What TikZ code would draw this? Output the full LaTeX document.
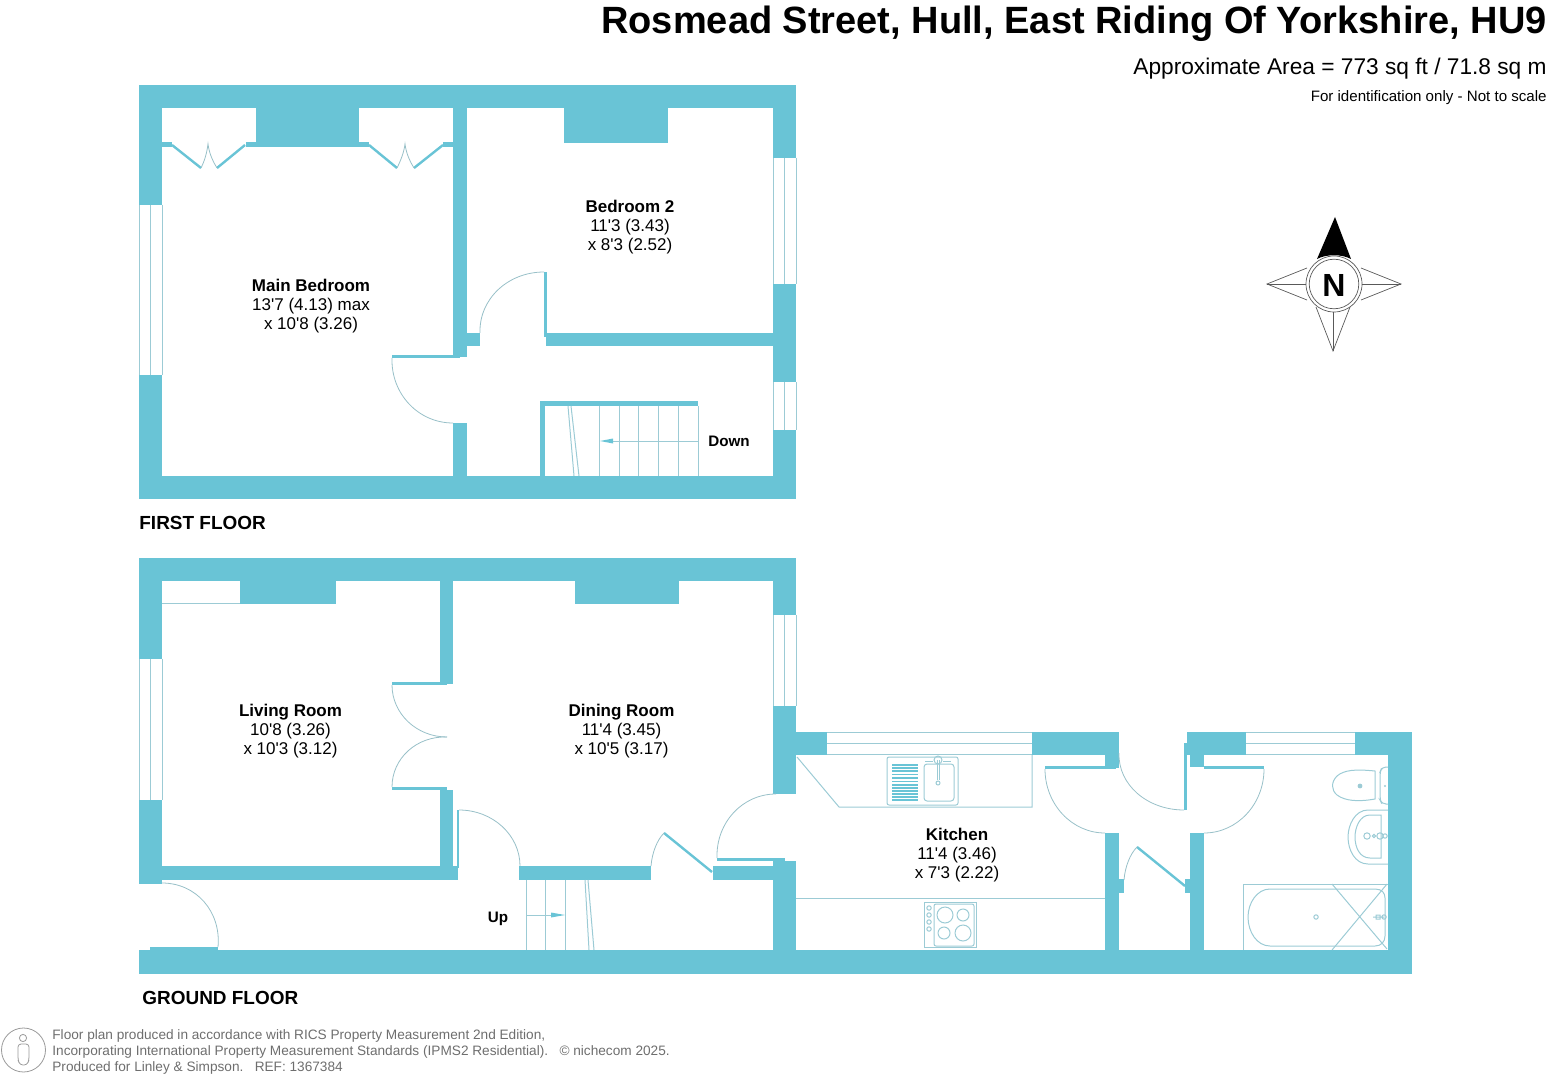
\documentclass[tikz,border=0pt]{standalone}
\usepackage{fontspec}
\setmainfont[Ligatures=TeXOff]{Liberation Sans}
\usetikzlibrary{calc}
\definecolor{wallc}{HTML}{69C4D6}
\definecolor{thinc}{HTML}{9CCBD5}
\definecolor{footc}{HTML}{6E6E6E}
\tikzset{
  wall/.style={fill=wallc,draw=none},
  thin line/.style={draw=thinc,line width=0.5pt},
  swing/.style={draw=thinc!85!gray,line width=0.4pt},
  leaf/.style={draw=wallc,line width=1.2pt},
  roomlabel/.style={align=center,inner sep=0pt,font=\fontsize{8.5}{9.5}\selectfont},
  smalllabel/.style={inner sep=0pt,font=\fontsize{7.6}{9.5}\selectfont\bfseries},
  floorlabel/.style={inner sep=0pt,anchor=west,font=\fontsize{9.48}{12}\selectfont\bfseries},
  foot/.style={inner sep=0pt,anchor=west,text=footc,font=\fontsize{6.82}{8}\selectfont},
  compass/.style={draw=black!65,line width=0.35pt}
}
\newcommand\wl[4]{\fill[wall] (#1,#2) rectangle (#3,#4);}
\newcommand\qarc[6]{\draw[swing] (#1,#2) .. controls ($(#1,#2)!.552!(#1+#5-#3,#2+#6-#4)$) and ($(#5,#6)!.552!(#1+#5-#3,#2+#6-#4)$) .. (#5,#6);}
\newcommand\winh[3]{\draw[thin line] (#1,#3) -- (#2,#3) (#1,#3+11) -- (#2,#3+11) (#1,#3+22) -- (#2,#3+22);}
\newcommand\winv[3]{\draw[thin line] (#3,#1) -- (#3,#2) (#3+11.5,#1) -- (#3+11.5,#2) (#3+23,#1) -- (#3+23,#2);}
\begin{document}
\begin{tikzpicture}[x=0.5pt,y=-0.5pt]
\useasboundingbox (0,0) rectangle (1551,1080);
% ===== FIRST FLOOR =====
\wl{139}{85}{796}{108}
\wl{139}{85}{162}{205}
\wl{139}{375}{162}{499}
\wl{139}{476}{796}{499}
\wl{773}{85}{796}{158}
\wl{773}{284}{796}{382}
\wl{773}{430}{796}{499}
\winv{205}{375}{139}
\winv{158}{284}{773}
\winv{382}{430}{773}
% chimneys
\wl{256}{108}{359}{147}
\wl{564}{108}{668}{143}
% wardrobe stubs and doors
\wl{162}{142}{172}{147}
\wl{246}{142}{256}{147}
\wl{359}{142}{369}{147}
\wl{443}{142}{453}{147}
\draw[leaf] (172,145) -- (201,168);
\draw[leaf] (245,145) -- (217,168);
\draw[leaf] (369,145) -- (397,168);
\draw[leaf] (443,145) -- (414,168);
\draw[swing] (201,168) .. controls (205,160) and (207,152) .. (208,144) .. controls (209,152) and (212,160) .. (217,168);
\draw[swing] (397,168) .. controls (401,160) and (404,152) .. (405,144) .. controls (406,152) and (409,160) .. (414,168);
% partitions
\wl{453}{108}{467}{357}
\wl{453}{423}{467}{476}
\wl{467}{333}{480}{346}
\wl{546}{333}{773}{346}
\wl{544}{272}{547}{337}
\wl{392}{355}{460}{358}
\qarc{544}{272}{546}{333}{480}{333}
\qarc{392}{358}{455}{358}{453}{423}
% stairs
\wl{540}{401}{698}{406}
\wl{540}{401}{545}{476}
\draw[thin line] (599,406) -- (599,476) (619,406) -- (619,476) (638.5,406) -- (638.5,476) (658,406) -- (658,476) (678,406) -- (678,476) (698,406) -- (698,476);
\draw[thin line] (568,406) -- (574,476) (571,406) -- (579,476);
\draw[thin line] (698,441) -- (606,441);
\fill[wallc] (600,441) -- (613,438.5) -- (613,443.5) -- cycle;
% ===== GROUND FLOOR =====
\wl{139}{558}{796}{581}
\wl{139}{558}{162}{659}
\wl{139}{800}{162}{884}
\wl{139}{950}{1412}{974}
\wl{773}{558}{796}{615}
\wl{773}{706}{796}{794}
\wl{773}{861}{796}{974}
\winv{659}{800}{139}
\winv{615}{706}{773}
\wl{240}{581}{336}{604}
\wl{575}{581}{679}{604}
\draw[thin line] (162,603) -- (240,603);
% partition living/dining
\wl{440}{581}{453}{684}
\wl{440}{790}{453}{866}
\wl{392}{682}{447}{685}
\wl{392}{787}{447}{790}
\qarc{392}{685}{447}{685}{447}{737}
\qarc{392}{787}{447}{789}{447}{737}
% hall wall
\wl{162}{866}{458}{880}
\wl{457}{810}{459}{868}
\qarc{459}{810}{459}{866}{520}{866}
\wl{519}{866}{651}{880}
\wl{713}{866}{773}{880}
\draw[leaf] (712,872) -- (664,833);
\draw[swing] (664,833) .. controls (657,840) and (652,853) .. (651,866);
\wl{717}{858}{785}{861}
\qarc{776}{794}{778}{858}{717}{858}
% front door
\wl{150}{947}{218}{950}
\qarc{162}{883}{156}{947}{218}{947}
% stairs ground
\draw[thin line] (526,880) -- (526,950) (545,880) -- (545,950) (565,880) -- (565,950);
\draw[thin line] (585,880) -- (589,950) (588,880) -- (594,950);
\draw[thin line] (526,915) -- (552,915);
\fill[wallc] (565,915) -- (551,912.5) -- (551,917.5) -- cycle;
% ===== KITCHEN / BATH =====
\wl{796}{732}{827}{755}
\winh{827}{1032}{732}
\wl{1032}{732}{1119}{755}
\wl{1105}{755}{1119}{768}
\wl{1045}{766}{1116}{769}
\qarc{1045}{769}{1105}{769}{1105}{833}
\wl{1105}{833}{1119}{950}
\wl{1119}{879}{1124}{893}
\wl{1185}{879}{1190}{893}
\wl{1190}{833}{1204}{950}
\draw[leaf] (1137,847) -- (1185,886);
\draw[swing] (1137,847) .. controls (1130,854) and (1125,867) .. (1124,880);
\wl{1187}{732}{1246}{755}
\wl{1190}{755}{1204}{767}
\wl{1184}{743}{1187}{810}
\qarc{1119}{753}{1186}{753}{1184}{810}
\wl{1204}{766}{1264}{769}
\qarc{1264}{769}{1204}{769}{1204}{833}
\winh{1246}{1355}{732}
\wl{1355}{732}{1412}{755}
\wl{1388}{732}{1412}{974}
% kitchen units
\draw[thin line] (797,757) -- (839,807) -- (1032,807) -- (1032,755);
\draw[thin line] (796,898) -- (1105,898);
% sink
\draw[thin line,rounded corners=1pt] (887,757) rectangle (958,805);
\draw[thin line,rounded corners=1.5pt] (924,764) rectangle (954,801);
\foreach \yy in {765,768,771,774.5,778,781.5,785,788,791,794,797,800}
  \draw[wallc,line width=0.7pt] (892,\yy) -- (918,\yy);
\draw[thin line] (937,760) -- (937,780) (939,760) -- (939,780);
\draw[thin line] (938,760) circle (2pt);
\draw[thin line] (938,783) circle (1pt);
\draw[thin line] (925,761) -- (933,761) (943,761) -- (951,761);
% hob
\draw[thin line] (924,902) rectangle (976,947);
\draw[thin line,rounded corners=1pt] (934,904) rectangle (974,946);
\draw[thin line] (945,915) circle (4pt) (963,915) circle (3pt) (944,933) circle (3pt) (963,933) circle (4pt);
\foreach \yy in {908,915,922,929} \draw[thin line] (929,\yy) circle (1.1pt);
% toilet
\draw[thin line] (1375,771) .. controls (1355,769) and (1344,770) .. (1337,776) .. controls (1331,782) and (1331,790) .. (1337,795) .. controls (1345,801) and (1358,802) .. (1375,799) -- cycle;
\draw[thin line,rounded corners=2pt] (1388,767) -- (1382,767) -- (1380,772) -- (1380,800) -- (1382,804) -- (1388,804);
\fill[thinc] (1360,786) circle (1.2pt);
\fill[thinc] (1385,786) circle (0.6pt);
% basin
\draw[thin line] (1388,810) -- (1368,810) .. controls (1355,810) and (1348,825) .. (1348,837) .. controls (1348,850) and (1355,864) .. (1368,864) -- (1388,864);
\draw[thin line] (1381,815) -- (1370,815) .. controls (1360,815) and (1355,827) .. (1355,837) .. controls (1355,848) and (1360,858) .. (1370,858) -- (1381,858) -- cycle;
\draw[thin line] (1367,836) circle (1.6pt) (1380,836) circle (1.6pt);
\draw[thin line] (1374,836) circle (0.8pt) (1385,836) circle (1.1pt);
% bath
\draw[thin line] (1243,950) -- (1243,884) -- (1388,884);
\draw[thin line] (1270,889) -- (1375,889) .. controls (1382,889) and (1385,893) .. (1385,898) -- (1385,936) .. controls (1385,942) and (1381,946) .. (1375,946) -- (1270,946) .. controls (1257,946) and (1248,932) .. (1248,917) .. controls (1248,903) and (1257,889) .. (1270,889) -- cycle;
\draw[thin line] (1332,884) -- (1387,949) (1332,950) -- (1387,884);
\draw[thin line] (1316,917) circle (1.1pt);
\draw[thin line] (1373,917) -- (1384,917) (1376,915) rectangle (1380,919) (1384,917) circle (1.1pt);
% ===== COMPASS =====
\fill[black] (1335,217) -- (1351,259) .. controls (1342,254) and (1326,254) .. (1317,259) -- cycle;
\draw[compass] (1361,268) -- (1401,284) -- (1361,300);
\draw[compass] (1307,268) -- (1267,284) -- (1307,300);
\draw[compass] (1316,307) -- (1333,351) -- (1350,307);
\draw[compass] (1267,284) -- (1306,284) (1362,284) -- (1401,284) (1333,312) -- (1333,351);
\draw[compass] (1334,284) circle (14pt) (1334,284) circle (12.4pt);
\node[inner sep=0pt,font=\fontsize{16}{18}\selectfont\bfseries] (north) at (1334,285) {N};
% ===== TEXT =====
\node[inner sep=0pt,anchor=east,font=\fontsize{19}{20}\selectfont\bfseries] (title) at (1547,23.5) {Rosmead Street, Hull, East Riding Of Yorkshire, HU9};
\node[inner sep=0pt,anchor=east,font=\fontsize{11.35}{13}\selectfont] (area) at (1547,69) {Approximate Area = 773 sq ft / 71.8 sq m};
\node[inner sep=0pt,anchor=east,font=\fontsize{7.55}{9}\selectfont] (ident) at (1547,98) {For identification only - Not to scale};
\node[roomlabel] (mainbed) at (311,306) {\textbf{Main Bedroom}\\13'7 (4.13) max\\x 10'8 (3.26)};
\node[roomlabel] (bed2) at (630,227) {\textbf{Bedroom 2}\\11'3 (3.43)\\x 8'3 (2.52)};
\node[roomlabel] (living) at (290.5,731) {\textbf{Living Room}\\10'8 (3.26)\\x 10'3 (3.12)};
\node[roomlabel] (dining) at (621.5,731) {\textbf{Dining Room}\\11'4 (3.45)\\x 10'5 (3.17)};
\node[roomlabel] (kitchen) at (957,855) {\textbf{Kitchen}\\11'4 (3.46)\\x 7'3 (2.22)};
\node[smalllabel] (down) at (729,441) {Down};
\node[smalllabel] (up) at (498,918.5) {Up};
\node[floorlabel] (first) at (139,522.5) {FIRST FLOOR};
\node[floorlabel] (ground) at (142,997.5) {GROUND FLOOR};
\node[foot] (f1) at (52,1036) {Floor plan produced in accordance with RICS Property Measurement 2nd Edition,};
\node[foot] (f2) at (52,1052) {Incorporating International Property Measurement Standards (IPMS2 Residential).\ \ \ © nichecom 2025.};
\node[foot] (f3) at (52,1068) {Produced for Linley \& Simpson.\ \ \ REF:\ 1367384};
% person icon
\draw[footc!70,line width=0.4pt] (23.5,1050) circle (11pt);
\draw[footc!70,line width=0.4pt] (23,1038) circle (1.8pt);
\draw[footc!70,line width=0.4pt,rounded corners=1.5pt] (20,1065) -- (18,1060) -- (18,1044) -- (29,1044) -- (29,1060) -- (27,1065) -- cycle;
\end{tikzpicture}
\end{document}
